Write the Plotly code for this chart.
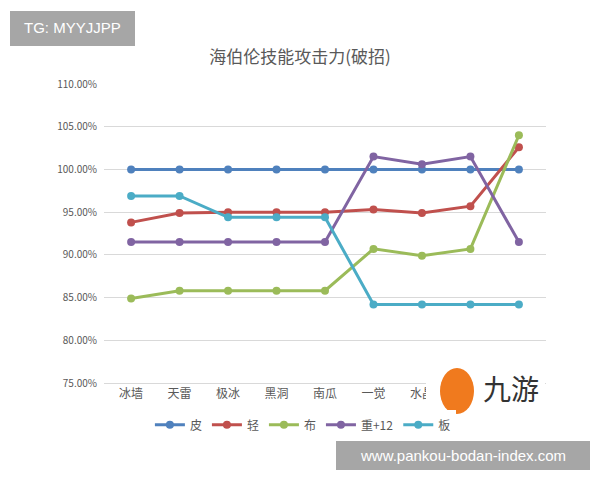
import plotly.graph_objects as go

categories = ["冰墙", "天雷", "极冰", "黑洞", "南瓜", "一觉", "水晶", "二觉", "三觉"]
pi = [100, 100, 100, 100, 100, 100, 100, 100, 100]
qing = [93.8, 94.9, 95.0, 95.0, 95.0, 95.3, 94.9, 95.7, 102.6]
bu = [84.9, 85.8, 85.8, 85.8, 85.8, 90.7, 89.9, 90.7, 104.0]
zhong = [91.5, 91.5, 91.5, 91.5, 91.5, 101.5, 100.6, 101.5, 91.5]
ban = [96.9, 96.9, 94.4, 94.4, 94.4, 84.2, 84.2, 84.2, 84.2]

series = [
    ("皮", pi, "#4F81BD"),
    ("轻", qing, "#C0504D"),
    ("布", bu, "#9BBB59"),
    ("重+12", zhong, "#8064A2"),
    ("板", ban, "#4BACC6"),
]

fig = go.Figure()
for name, vals, color in series:
    fig.add_trace(go.Scatter(
        x=categories, y=vals, name=name, mode="lines+markers",
        line=dict(color=color, width=3),
        marker=dict(color=color, size=8),
    ))

font_family = "Noto Sans CJK SC, Noto Sans, sans-serif"
fig.update_layout(
    width=600, height=480,
    margin=dict(l=104, r=54, t=84, b=97),
    paper_bgcolor="white", plot_bgcolor="white",
    font=dict(family=font_family, color="#595959"),
    title=dict(text="海伯伦技能攻击力(破招)", x=0.5, xanchor="center",
               y=1 - 57 / 480, yanchor="middle",
               font=dict(size=17, color="#595959", family=font_family)),
    showlegend=True,
    legend=dict(orientation="h", x=0.45, xanchor="center", y=-0.14, yanchor="middle",
                font=dict(size=12, color="#595959"), itemwidth=30,
                tracegroupgap=0),
    xaxis=dict(type="category", showgrid=False, showline=True, linecolor="#d9d9d9",
               ticks="", tickfont=dict(size=12, color="#595959")),
    yaxis=dict(range=[75, 110], dtick=5, tickformat=".2f", ticksuffix="%",
               showgrid=True, gridcolor="#d9d9d9", zeroline=False,
               ticks="outside", ticklen=4, tickcolor="white",
               tickfont=dict(size=10, color="#595959")),
)

def px(x):
    return (x - 104) / 442

def py(y):
    return (383 - y) / 299

# TG label
fig.add_shape(type="rect", xref="paper", yref="paper",
              x0=px(10), x1=px(135), y0=py(46), y1=py(11),
              fillcolor="#a6a6a6", line=dict(width=0), layer="above")
fig.add_annotation(text="TG: MYYJJPP", xref="paper", yref="paper",
                   x=px(72), y=py(28), xanchor="center", yanchor="middle", showarrow=False,
                   font=dict(size=15, color="white", family="Liberation Sans, Arial"))

# logo box
fig.add_shape(type="rect", xref="paper", yref="paper",
              x0=px(426), x1=px(545), y0=py(412), y1=py(360),
              fillcolor="white", line=dict(width=0), layer="above")
fig.add_shape(type="circle", xref="paper", yref="paper",
              x0=px(440), x1=px(474), y0=py(414), y1=py(368),
              fillcolor="#F07A1E", line=dict(width=0), layer="above")
fig.add_annotation(text="九游", xref="paper", yref="paper",
                   x=px(511), y=py(388), xanchor="center", yanchor="middle", showarrow=False,
                   font=dict(size=28, color="#333333", family=font_family))

# url bar
fig.add_shape(type="rect", xref="paper", yref="paper",
              x0=px(336), x1=px(590), y0=py(470), y1=py(441),
              fillcolor="#a6a6a6", line=dict(width=0), layer="above")
fig.add_annotation(text="www.pankou-bodan-index.com", xref="paper", yref="paper",
                   x=px(463), y=py(455), xanchor="center", yanchor="middle", showarrow=False,
                   font=dict(size=15, color="white", family="Liberation Sans, Arial"))

fig.write_html("out.html", config={"displayModeBar": False},
               post_script="document.body.style.margin='0';")
